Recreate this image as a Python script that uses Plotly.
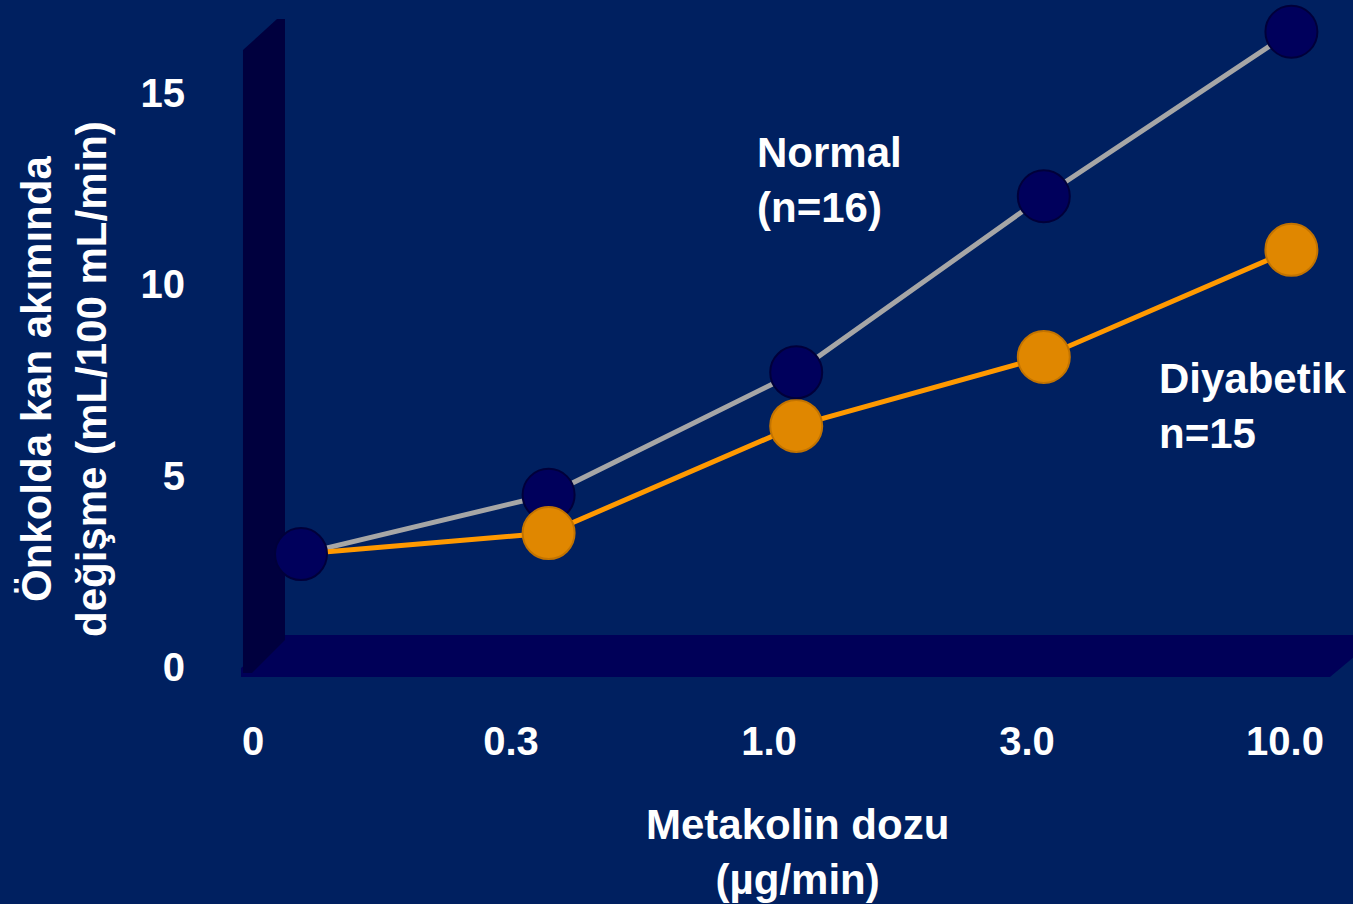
import plotly.graph_objects as go

# Metacholine dose categories and forearm blood-flow change (mL/100 mL/min)
doses = ["0", "0.3", "1.0", "3.0", "10.0"]
normal = [2.95, 4.5, 7.7, 12.3, 16.6]
diyabetik = [2.95, 3.5, 6.3, 8.1, 10.9]
y_ticks = [0, 5, 10, 15]

W, H = 1353, 904
BG = "#002060"
FONT = "Liberation Sans, Arial, sans-serif"
MSIZE = 52
TXT = 42


def px(x, y):
    """Pixel position -> paper coordinates."""
    return x / W, 1 - y / H


def path(points):
    pts = [px(x, y) for x, y in points]
    return "M " + " L ".join(f"{a:.5f},{b:.5f}" for a, b in pts) + " Z"


def markers(values, sizes, fill, edge, name=None):
    return go.Scatter(x=doses, y=values, mode="markers", opacity=1,
                      marker=dict(size=sizes, color=fill, opacity=1,
                                  line=dict(color=edge, width=2)),
                      cliponaxis=False, name=name, showlegend=False)


fig = go.Figure()

# connecting lines first, markers on top
fig.add_trace(go.Scatter(x=doses, y=normal, mode="lines",
                         line=dict(color="#A6A6A6", width=5),
                         cliponaxis=False, hoverinfo="skip", showlegend=False))
fig.add_trace(go.Scatter(x=doses, y=diyabetik, mode="lines",
                         line=dict(color="#FF9900", width=5),
                         cliponaxis=False, hoverinfo="skip", showlegend=False))
# navy markers at the two lowest doses sit behind the orange ones
fig.add_trace(markers(normal, [MSIZE, MSIZE, 0, 0, 0], "#00005C", "#00003A", "Normal"))
fig.add_trace(markers(diyabetik, [0, MSIZE, MSIZE, MSIZE, MSIZE], "#E08700", "#C27300", "Diyabetik"))
fig.add_trace(markers(normal, [0, 0, MSIZE, MSIZE, MSIZE], "#00005C", "#00003A"))

# 3D floor and back wall
shapes = [
    dict(type="path", xref="paper", yref="paper", layer="below",
         path=path([(241, 677), (241, 668), (285, 635), (1380, 635), (1330, 677)]),
         fillcolor="#000058", line=dict(width=0)),
    dict(type="path", xref="paper", yref="paper", layer="below",
         path=path([(243, 50), (277, 19), (285, 19), (285, 640), (252, 673), (243, 673)]),
         fillcolor="#00003E", line=dict(width=0)),
]

x_dom = (190 / W, 1345 / W)
plot_w = 1345 - 190
fig.update_layout(
    width=W, height=H, autosize=False,
    margin=dict(l=0, r=0, t=0, b=0, pad=0),
    paper_bgcolor=BG, plot_bgcolor=BG,
    shapes=shapes,
    font=dict(family=FONT, color="white", size=40),
    xaxis=dict(type="category", domain=list(x_dom), automargin=False,
               range=[-(301 - 190) / 247.6, -(301 - 190) / 247.6 + plot_w / 247.6],
               showgrid=False, zeroline=False, showline=False, showticklabels=False),
    xaxis2=dict(type="category", overlaying="x", anchor="free", position=(H - 714) / H,
                domain=list(x_dom), automargin=False,
                range=[-(253 - 190) / 258, -(253 - 190) / 258 + plot_w / 258],
                tickvals=doses, ticktext=[f"<b>{d}</b>" for d in doses],
                tickfont=dict(size=40, color="white", family=FONT),
                showgrid=False, zeroline=False, showline=False, ticks=""),
    yaxis=dict(domain=[(H - 667) / H, (H - 10) / H], range=[0, (667 - 10) / 38.27],
               automargin=False,
               tickvals=y_ticks, ticktext=[f"<b>{v}</b>" for v in y_ticks],
               tickfont=dict(size=40, color="white", family=FONT),
               showgrid=False, zeroline=False, showline=False, ticks="",
               ticklabelstandoff=4),
)

# invisible trace so xaxis2 is drawn
fig.add_trace(go.Scatter(x=doses, y=[None] * len(doses), xaxis="x2", yaxis="y",
                         showlegend=False, hoverinfo="skip"))

ann = [
    dict(x=px(64, 379)[0], y=px(64, 379)[1], xref="paper", yref="paper",
         text="<b>Önkolda kan akımında<br>değişme (mL/100 mL/min)</b>",
         textangle=-90, showarrow=False, xanchor="center", yanchor="middle",
         font=dict(size=TXT, color="white", family=FONT)),
    dict(x=px(797, 852)[0], y=px(797, 852)[1], xref="paper", yref="paper",
         text="<b>Metakolin dozu<br>(µg/min)</b>", showarrow=False,
         xanchor="center", yanchor="middle", align="center",
         font=dict(size=TXT, color="white", family=FONT)),
    dict(x=px(755, 180)[0], y=px(755, 180)[1], xref="paper", yref="paper",
         text="<b>Normal<br>(n=16)</b>", showarrow=False,
         xanchor="left", yanchor="middle", align="left",
         font=dict(size=TXT, color="white", family=FONT)),
    dict(x=px(1157, 406)[0], y=px(1157, 406)[1], xref="paper", yref="paper",
         text="<b>Diyabetik<br>n=15</b>", showarrow=False,
         xanchor="left", yanchor="middle", align="left",
         font=dict(size=TXT, color="white", family=FONT)),
]
fig.update_layout(annotations=ann)

fig.write_html("out.html")
